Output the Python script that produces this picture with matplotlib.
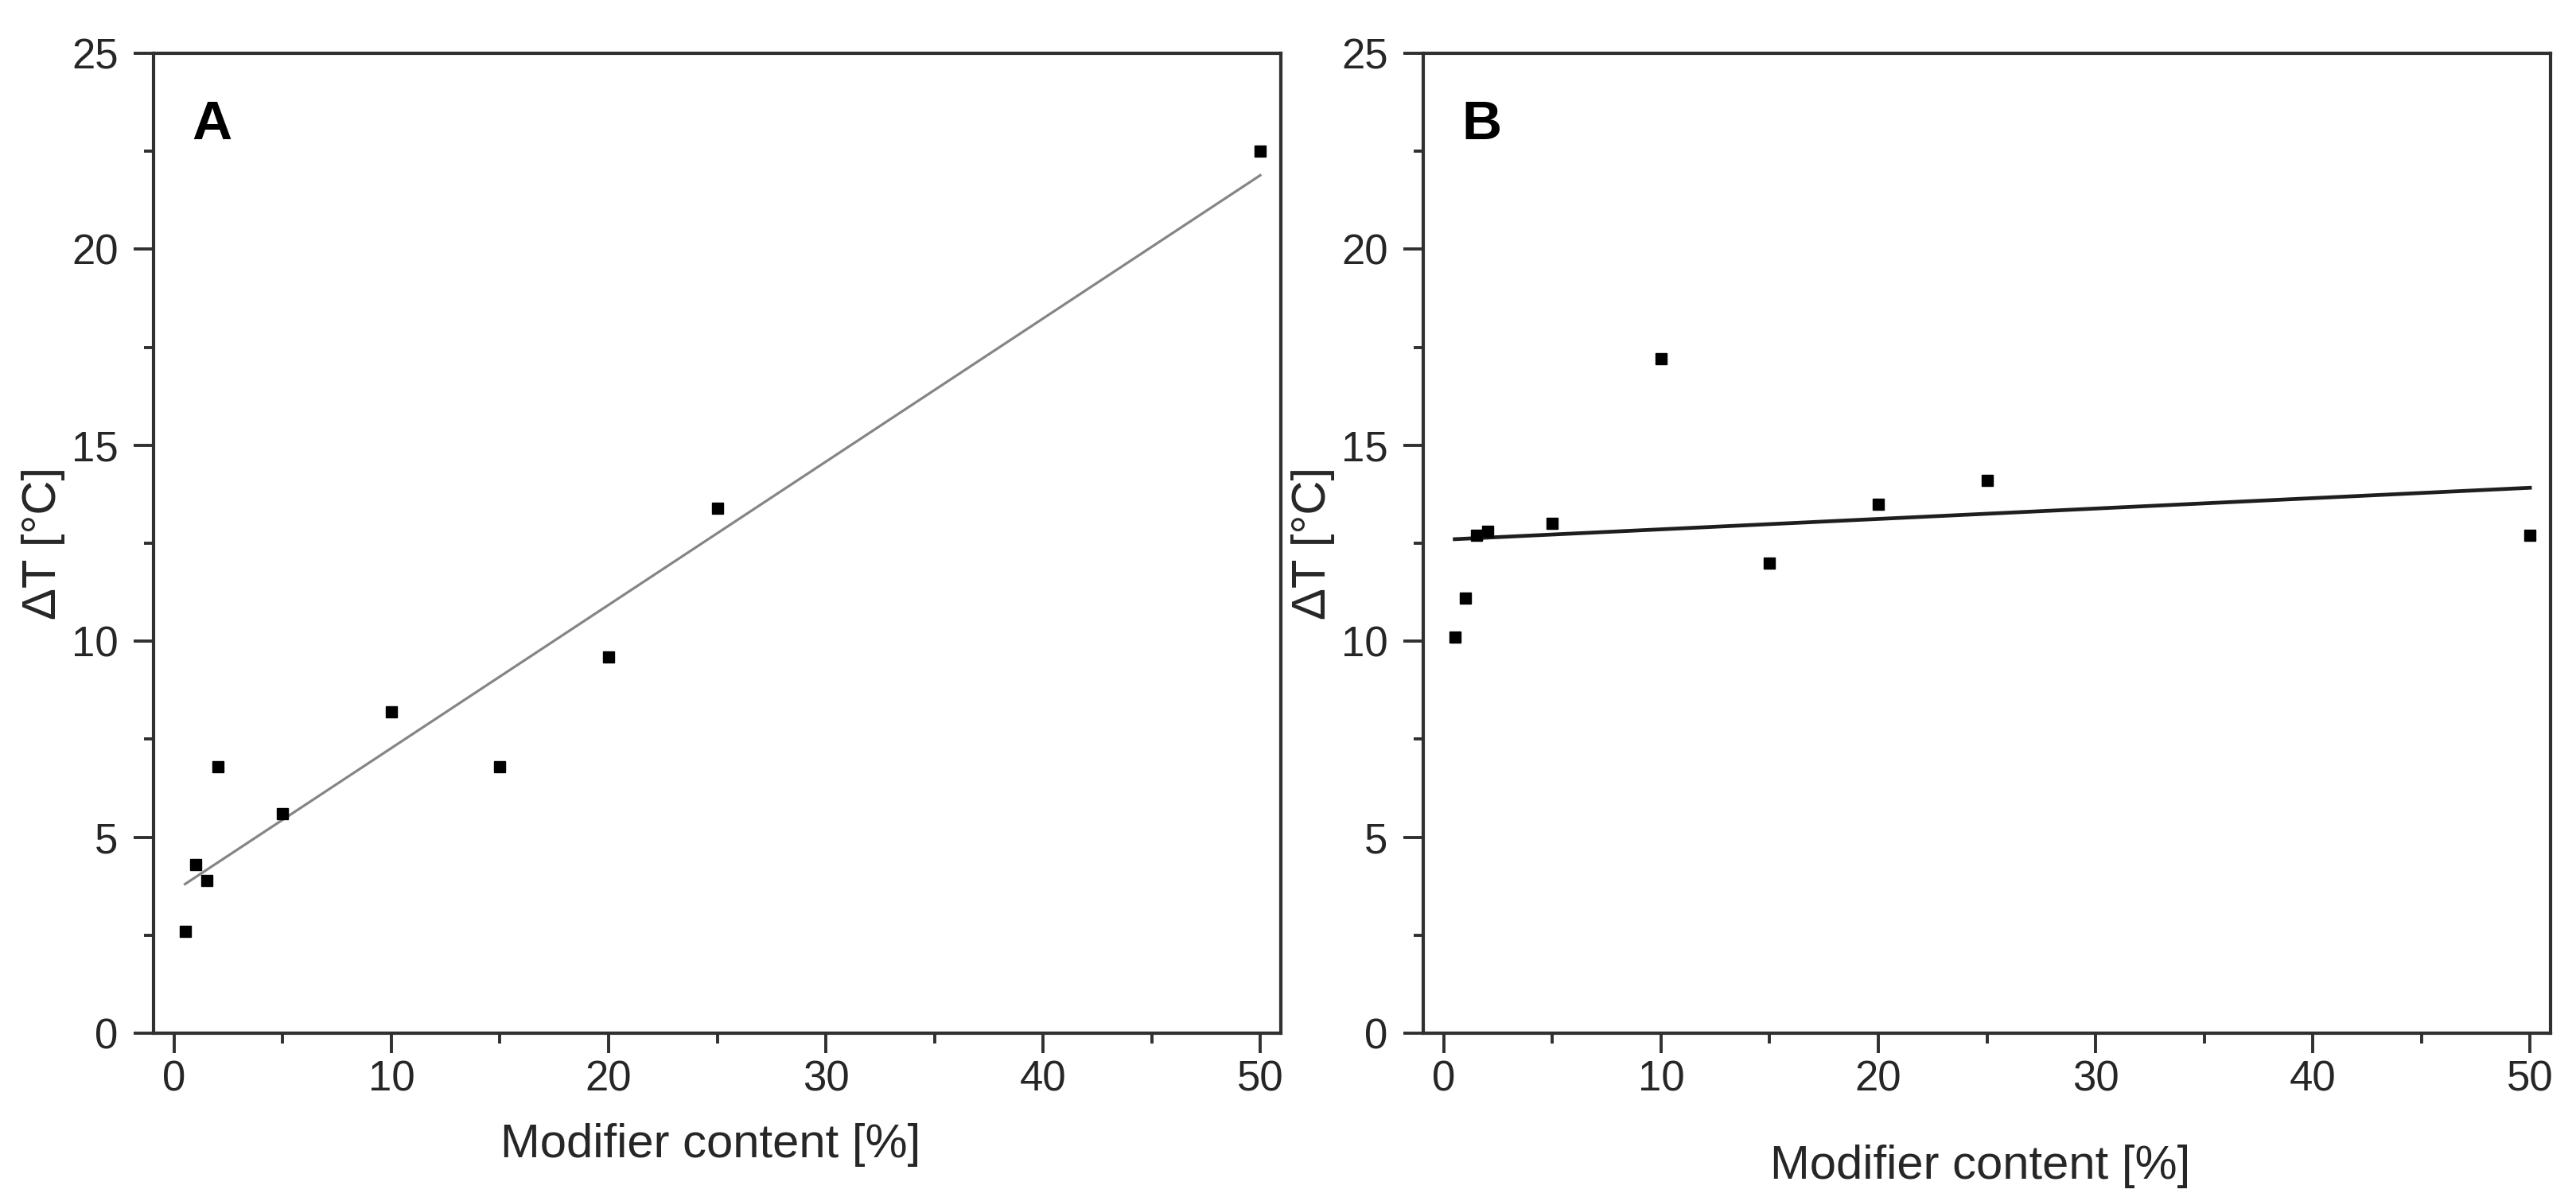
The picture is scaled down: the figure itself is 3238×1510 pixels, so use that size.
import matplotlib
matplotlib.use("Agg")
import matplotlib.pyplot as plt
from matplotlib import font_manager
from matplotlib.ticker import MultipleLocator
import numpy as np

# ---- data ----
modifier_content = [0.5, 1, 1.5, 2, 5, 10, 15, 20, 25, 50]
delta_t_a = [2.6, 4.3, 3.9, 6.8, 5.6, 8.2, 6.8, 9.6, 13.4, 22.5]
delta_t_b = [10.1, 11.1, 12.7, 12.8, 13.0, 17.2, 12.0, 13.5, 14.1, 12.7]
# linear fit lines as drawn (intercept, slope)
fit_b = [12.59, 0.0265]
panel_labels = ["A", "B"]
x_ticks = [0, 10, 20, 30, 40, 50]
y_ticks = [0, 5, 10, 15, 20, 25]

names = {f.name for f in font_manager.fontManager.ttflist}
tick_family = "Liberation Sans Narrow" if "Liberation Sans Narrow" in names else "Liberation Sans"
plt.rcParams["font.family"] = ["Liberation Sans", "DejaVu Sans"]

W, H = 3238, 1510
dpi = 100
fig = plt.figure(figsize=(W / dpi, H / dpi), dpi=dpi)

spine_col = "#303030"
text_col = "#262626"

axA = fig.add_axes([193 / W, 1 - 1299 / H, 1417 / W, 1232 / H])
axB = fig.add_axes([1789 / W, 1 - 1299 / H, 1417 / W, 1232 / H])

# fit for A from data
slope_a, icpt_a = np.polyfit(modifier_content, delta_t_a, 1)
xfit = np.array([modifier_content[0], modifier_content[-1]])

axA.plot(xfit, icpt_a + slope_a * xfit, color="#858585", lw=2.3, zorder=2)
axB.plot(xfit, fit_b[0] + fit_b[1] * xfit, color="#1e1e1e", lw=3.4, zorder=2)

for ax, y, lab, xl_y in [(axA, delta_t_a, panel_labels[0], -0.114),
                         (axB, delta_t_b, panel_labels[1], -0.136)]:
    ax.plot(modifier_content, y, linestyle="none", marker="s", ms=10,
            color="black", zorder=3)
    ax.set_xlim(-0.95, 50.95)
    ax.set_ylim(0, 25)
    ax.set_xticks(x_ticks)
    ax.set_yticks(y_ticks)
    ax.xaxis.set_minor_locator(MultipleLocator(5))
    ax.yaxis.set_minor_locator(MultipleLocator(2.5))
    for s in ax.spines.values():
        s.set_linewidth(3.0)
        s.set_color(spine_col)
    ax.tick_params(which="major", direction="out", length=18, width=2.8,
                   color=spine_col, labelsize=38, labelcolor=text_col)
    ax.tick_params(which="minor", direction="out", length=9, width=2.8,
                   color=spine_col)
    ax.tick_params(axis="x", which="major", pad=6)
    ax.tick_params(axis="y", which="major", pad=14)
    for t in ax.get_xticklabels() + ax.get_yticklabels():
        t.set_family([tick_family, "DejaVu Sans"])
    ax.set_xlabel("Modifier content [%]", fontsize=43, color=text_col)
    ax.xaxis.set_label_coords(0.494, xl_y)
    ax.xaxis.label.set_va("center")
    ax.set_ylabel("ΔT [°C]", fontsize=43, color=text_col)
    ax.yaxis.set_label_coords(-0.0975, 0.5)
    ax.yaxis.label.set_va("center")
    ax.text(0.034, 0.912, lab, transform=ax.transAxes, fontsize=50,
            fontweight="bold", ha="left", va="baseline", color="black")

fig.savefig("out.png", dpi=dpi, facecolor="white")
